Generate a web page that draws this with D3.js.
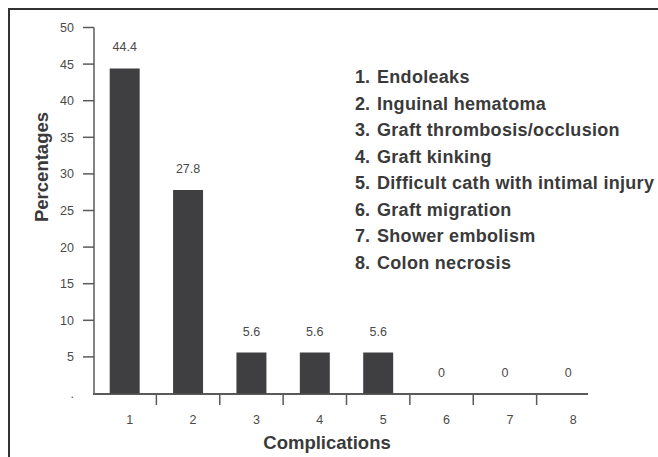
<!DOCTYPE html>
<html>
<head>
<meta charset="utf-8">
<script src="https://cdn.jsdelivr.net/npm/d3@7/dist/d3.min.js"></script>
<style>
  html, body { margin: 0; padding: 0; background: #fff; }
  svg { display: block; font-family: "Liberation Sans", Arial, Helvetica, sans-serif; }
</style>
</head>
<body>
<svg id="chart" width="658" height="457"></svg>
<script>
const categories = ["1", "2", "3", "4", "5", "6", "7", "8"];
const values = [44.4, 27.8, 5.6, 5.6, 5.6, 0, 0, 0];
const valueLabels = ["44.4", "27.8", "5.6", "5.6", "5.6", "0", "0", "0"];
const yTicks = [0, 5, 10, 15, 20, 25, 30, 35, 40, 45, 50];
const yTickLabels = [".", "5", "10", "15", "20", "25", "30", "35", "40", "45", "50"];
const legendItems = [
  "Endoleaks",
  "Inguinal hematoma",
  "Graft thrombosis/occlusion",
  "Graft kinking",
  "Difficult cath with intimal injury",
  "Graft migration",
  "Shower embolism",
  "Colon necrosis"
];

const svg = d3.select("#chart");
const axisColor = "#5a5a5a";
const textColor = "#4a4a4a";
const barColor = "#3f3f41";

// frame
svg.append("path")
  .attr("d", "M9,457 L9,9 L658,9")
  .attr("fill", "none")
  .attr("stroke", "#333")
  .attr("stroke-width", 2);

const x = d3.scaleBand().domain(categories).range([93, 600]).paddingInner(0.527).paddingOuter(0.2635);
const y = d3.scaleLinear().domain([0, 50]).range([393.5, 27.5]);

// y axis
const yAxis = svg.append("g");
yAxis.append("line")
  .attr("x1", 94).attr("x2", 94)
  .attr("y1", y(50)).attr("y2", y(0))
  .attr("stroke", axisColor).attr("stroke-width", 1.5);
yAxis.selectAll("line.tick").data(yTicks.filter(d => d > 0)).enter().append("line")
  .attr("class", "tick")
  .attr("x1", 83).attr("x2", 94)
  .attr("y1", d => y(d)).attr("y2", d => y(d))
  .attr("stroke", axisColor).attr("stroke-width", 1.5);
yAxis.selectAll("text").data(yTicks).enter().append("text")
  .attr("x", 74)
  .attr("y", d => y(d) + 4.5)
  .attr("text-anchor", "end")
  .attr("font-size", 12.5)
  .attr("fill", textColor)
  .text((d, i) => yTickLabels[i]);

// x axis
const xAxis = svg.append("g");
xAxis.append("line")
  .attr("x1", 93).attr("x2", 588)
  .attr("y1", 394).attr("y2", 394)
  .attr("stroke", axisColor).attr("stroke-width", 2);
const boundaries = categories.slice(1).map(c => x(c) - x.step() * x.paddingInner() / 2);
xAxis.selectAll("line.tick").data(boundaries).enter().append("line")
  .attr("class", "tick")
  .attr("x1", d => d).attr("x2", d => d)
  .attr("y1", 394).attr("y2", 405)
  .attr("stroke", axisColor).attr("stroke-width", 1.5);
xAxis.selectAll("text").data(categories).enter().append("text")
  .attr("x", d => x(d) + x.bandwidth() / 2 + 5)
  .attr("y", 423.5)
  .attr("text-anchor", "middle")
  .attr("font-size", 12.5)
  .attr("fill", textColor)
  .text(d => d);

// bars
svg.selectAll("rect.bar").data(values).enter().append("rect")
  .attr("class", "bar")
  .attr("x", (d, i) => x(categories[i]))
  .attr("width", x.bandwidth())
  .attr("y", d => y(d))
  .attr("height", d => y(0) - y(d))
  .attr("fill", barColor);

// value labels
svg.selectAll("text.val").data(values).enter().append("text")
  .attr("class", "val")
  .attr("x", (d, i) => x(categories[i]) + x.bandwidth() / 2)
  .attr("y", d => y(d) - 17)
  .attr("text-anchor", "middle")
  .attr("font-size", 12.5)
  .attr("fill", textColor)
  .text((d, i) => valueLabels[i]);

// axis titles
svg.append("text")
  .attr("transform", "translate(48,167) rotate(-90)")
  .attr("text-anchor", "middle")
  .attr("font-size", 18.5)
  .attr("font-weight", "bold")
  .attr("fill", "#3a3a3a")
  .text("Percentages");
svg.append("text")
  .attr("x", 327).attr("y", 449)
  .attr("text-anchor", "middle")
  .attr("font-size", 18.5)
  .attr("font-weight", "bold")
  .attr("fill", "#3a3a3a")
  .text("Complications");

// legend
const leg = svg.append("g");
legendItems.forEach((t, i) => {
  const yy = 83 + i * 26.5;
  leg.append("text")
    .attr("x", 355).attr("y", yy)
    .attr("font-size", 18).attr("font-weight", "bold")
    .attr("fill", "#3a3a3a")
    .text((i + 1) + ".");
  leg.append("text")
    .attr("x", 377).attr("y", yy)
    .attr("font-size", 18).attr("font-weight", "bold")
    .attr("letter-spacing", 0.3)
    .attr("fill", "#3a3a3a")
    .text(t);
});
</script>
</body>
</html>
